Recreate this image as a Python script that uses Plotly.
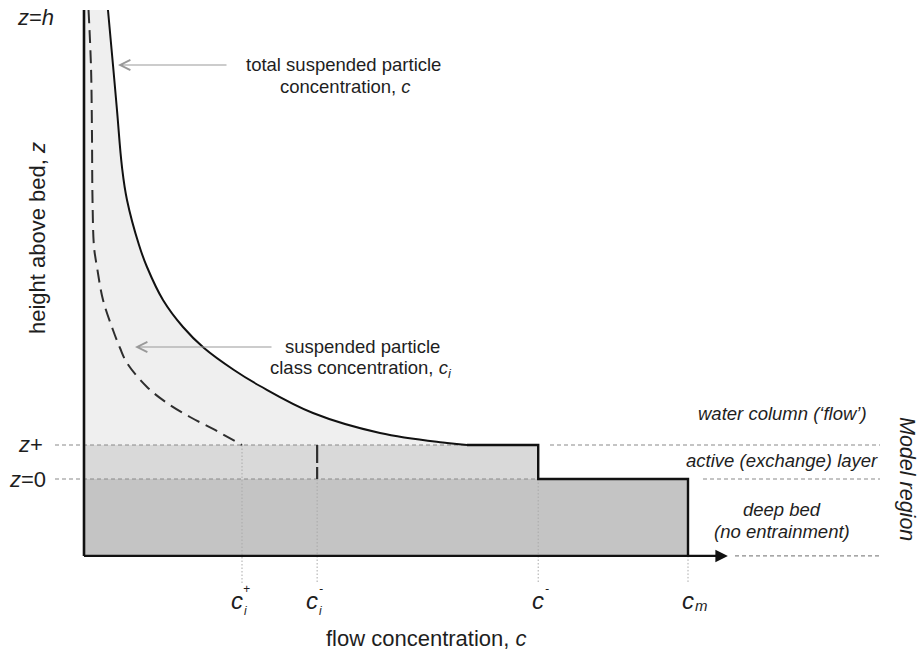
import plotly.graph_objects as go

# ---- data (c normalised by c_m, z normalised by flow depth h) ----
c_total = [0.0397, 0.0480, 0.0546, 0.0629, 0.0712, 0.0911, 0.1043, 0.1308,
           0.1639, 0.1987, 0.2483, 0.2914, 0.3791, 0.4901, 0.6010, 0.6341]
z_total = [1.0000, 0.8827, 0.7868, 0.6652, 0.5949, 0.4989, 0.4520, 0.3817,
           0.3241, 0.2793, 0.2324, 0.1983, 0.1407, 0.0981, 0.0768, 0.0725]

c_class = [0.0075, 0.0116, 0.0132, 0.0141, 0.0166, 0.0215, 0.0315, 0.0480,
           0.0596, 0.0712, 0.1043, 0.1374, 0.1755, 0.2169, 0.2616]
z_class = [1.0000, 0.8785, 0.7377, 0.5949, 0.4947, 0.4520, 0.3817, 0.3177,
           0.2793, 0.2473, 0.1962, 0.1620, 0.1322, 0.1045, 0.0725]

z_h = 1.0
z_plus = 0.0725
z_zero = 0.0
z_base = -0.164

c_i_plus = 0.2616
c_i_minus = 0.386
c_minus = 0.752
c_m = 1.0
c_axis_end = 1.066

# ---- page geometry: pixel <-> data ----
W, H = 919, 652
X0, XS = 84, 604      # pixel of c=0, pixels per unit c
Y0, YS = 479, 469     # pixel of z=0, pixels per unit z


def cx(px):
    return (px - X0) / XS


def zy(py):
    return (Y0 - py) / YS


FONT = "Liberation Sans, Arial, Helvetica, sans-serif"
INK = "#1e1e1e"
LIGHT, MID, DARK = "#efefef", "#d9d9d9", "#c4c4c4"
GUIDE = "#8a8a8a"

fig = go.Figure()

# filled regions
fig.add_trace(go.Scatter(
    x=[0] + c_total + [c_minus, 0],
    y=[z_h] + z_total + [z_plus, z_plus],
    fill="toself", fillcolor=LIGHT, mode="none", hoverinfo="skip"))
fig.add_trace(go.Scatter(
    x=[0, c_minus, c_minus, 0], y=[z_zero, z_zero, z_plus, z_plus],
    fill="toself", fillcolor=MID, mode="none", hoverinfo="skip"))
fig.add_trace(go.Scatter(
    x=[0, c_m, c_m, 0], y=[z_base, z_base, z_zero, z_zero],
    fill="toself", fillcolor=DARK, mode="none", hoverinfo="skip"))

# horizontal dashed guides for the model levels
guides = [
    ([cx(55), c_minus], [z_plus, z_plus]),
    ([cx(550), cx(880)], [z_plus, z_plus]),
    ([cx(55), c_minus], [z_zero, z_zero]),
    ([cx(703), cx(880)], [z_zero, z_zero]),
    ([cx(735), cx(880)], [z_base, z_base]),
]
for gx, gy in guides:
    fig.add_trace(go.Scatter(x=gx, y=gy, mode="lines", hoverinfo="skip",
                             line=dict(color=GUIDE, width=1.2, dash="4px,3px")))

# dotted drop lines to the concentration labels
drop_bottom = zy(583)
drops = [(c_i_plus, z_plus), (c_i_minus, z_zero), (c_minus, z_zero), (c_m, z_base)]
for dx, dtop in drops:
    fig.add_trace(go.Scatter(x=[dx, dx], y=[dtop, drop_bottom], mode="lines",
                             hoverinfo="skip",
                             line=dict(color="#aaaaaa", width=1, dash="1.5px,2px")))

# class concentration profile (dashed) and its active-layer value
fig.add_trace(go.Scatter(x=c_class, y=z_class, mode="lines", hoverinfo="skip",
                         line=dict(color="#2e2e2e", width=2, dash="13px,7px",
                                   shape="spline", smoothing=1.0)))
fig.add_trace(go.Scatter(x=[c_i_minus, c_i_minus], y=[z_plus, z_zero],
                         mode="lines", hoverinfo="skip",
                         line=dict(color="#2e2e2e", width=2.2, dash="18px,4px")))

# total concentration profile and the stepped bed outline
fig.add_trace(go.Scatter(x=c_total, y=z_total, mode="lines", hoverinfo="skip",
                         line=dict(color="#111111", width=2,
                                   shape="spline", smoothing=1.1)))
fig.add_trace(go.Scatter(
    x=[c_total[-1], c_minus, c_minus, c_m, c_m],
    y=[z_plus, z_plus, z_zero, z_zero, z_base],
    mode="lines", hoverinfo="skip",
    line=dict(color="#111111", width=2.4)))

# axes
fig.add_trace(go.Scatter(x=[0, 0], y=[z_h, z_base], mode="lines",
                         hoverinfo="skip", line=dict(color="#111111", width=2.6)))
fig.add_trace(go.Scatter(x=[0, c_axis_end - 0.01], y=[z_base, z_base],
                         mode="lines", hoverinfo="skip",
                         line=dict(color="#111111", width=2.4)))

ann = []


def text(px, py, s, size=18.5, italic=False, angle=0, color=INK):
    ann.append(dict(x=cx(px), y=zy(py), xref="x", yref="y", text=s,
                    showarrow=False, textangle=angle,
                    xanchor="center", yanchor="middle",
                    font=dict(family=FONT, size=size, color=color,
                              style="italic" if italic else "normal")))


# x-axis arrow head
ann.append(dict(x=c_axis_end, y=z_base, ax=c_axis_end - 0.05, ay=z_base,
                xref="x", yref="y", axref="x", ayref="y", text="",
                showarrow=True, arrowhead=2, arrowsize=1.25, arrowwidth=2,
                arrowcolor="#111111"))

# pointer arrows
ann.append(dict(x=cx(118), y=zy(65), ax=cx(228), ay=zy(65),
                xref="x", yref="y", axref="x", ayref="y", text="",
                showarrow=True, arrowhead=5, arrowsize=2, arrowwidth=1,
                arrowcolor="#999999"))
ann.append(dict(x=cx(135), y=zy(347), ax=cx(273), ay=zy(347),
                xref="x", yref="y", axref="x", ayref="y", text="",
                showarrow=True, arrowhead=5, arrowsize=2, arrowwidth=1,
                arrowcolor="#999999"))

text(343, 64, "total suspended particle")
text(345, 86, "concentration, <i>c</i>")
text(362, 346, "suspended particle")
text(361, 369, "class concentration, <i>c<sub>i</sub></i>")

# level labels
text(35, 17, "<i>z</i>=<i>h</i>", size=22)
text(30, 444, "<i>z</i>+", size=22)
text(27, 479, "<i>z</i>=0", size=22)

# region labels
text(782, 413, "water column (‘flow’)", italic=True)
text(782, 460, "active (exchange) layer", italic=True)
text(782, 509, "deep bed", italic=True)
text(782, 531, "(no entrainment)", italic=True)
text(907, 479, "Model region", size=21.5, italic=True, angle=90)

# axis titles
text(37, 238, "height above bed, <i>z</i>", size=22, angle=-90)
text(426, 638, "flow concentration, <i>c</i>", size=22)

# concentration labels along the bed axis
tick_vals = [c_i_plus, c_i_minus, c_minus, c_m]
tick_base = ["c", "c", "c", "c"]
tick_sup = ["+", "-", "-", ""]
tick_sub = ["i", "i", "", "m"]
for v, b, sup, sub in zip(tick_vals, tick_base, tick_sup, tick_sub):
    px = X0 + v * XS
    shift = -5 if (sup and sub) else 0
    text(px + shift, 600, b, size=24, italic=True)
    if sup:
        text(px + shift + 9, 589, sup, size=12, italic=True)
    if sub:
        if sup:
            text(px + shift + 8, 611, sub, size=12, italic=True)
        else:
            text(px + shift + 13, 605, sub, size=15, italic=True)

fig.update_layout(
    width=W, height=H,
    margin=dict(l=0, r=0, t=0, b=0),
    paper_bgcolor="white", plot_bgcolor="white",
    showlegend=False,
    xaxis=dict(range=[cx(0), cx(W)], visible=False, fixedrange=True),
    yaxis=dict(range=[zy(H), zy(0)], visible=False, fixedrange=True),
    annotations=ann,
)

fig.write_html("out.html")
